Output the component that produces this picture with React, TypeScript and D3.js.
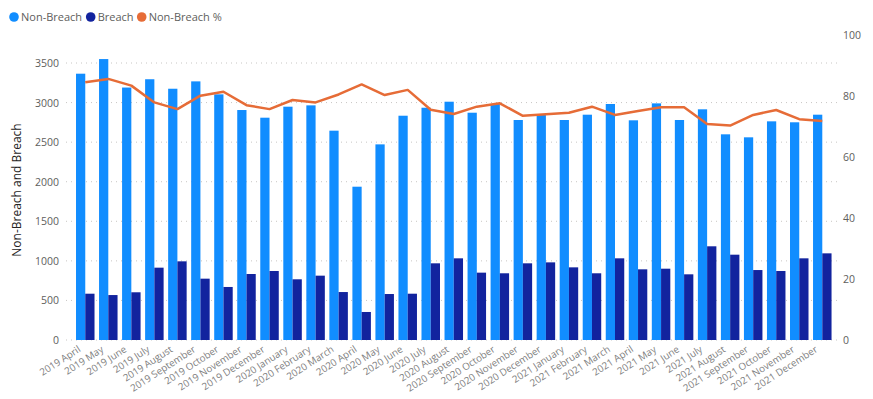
import React from "react";
import * as d3 from "d3";

const categories = [
  "2019 April","2019 May","2019 June","2019 July","2019 August","2019 September","2019 October","2019 November","2019 December",
  "2020 January","2020 February","2020 March","2020 April","2020 May","2020 June","2020 July","2020 August","2020 September","2020 October","2020 November","2020 December",
  "2021 January","2021 February","2021 March","2021 April","2021 May","2021 June","2021 July","2021 August","2021 September","2021 October","2021 November","2021 December",
];
const nonBreach = [
  3365, 3550, 3190, 3295, 3175, 3268, 3104, 2906, 2809,
  2948, 2965, 2645, 1937, 2472, 2834, 2935, 3011, 2872, 2982, 2780, 2852,
  2780, 2847, 2982, 2776, 2990, 2780, 2915, 2599, 2561, 2763, 2751, 2847,
];
const breach = [
  585, 568, 603, 914, 994, 775, 670, 834, 872,
  767, 813, 606, 354, 581, 585, 969, 1032, 851, 843, 969, 981,
  918, 843, 1032, 893, 901, 830, 1184, 1078, 884, 872, 1032, 1095,
];
const nonBreachPct = [
  84.5, 85.6, 83.4, 77.9, 75.7, 80.1, 81.4, 77.0, 75.7,
  78.7, 77.9, 80.5, 83.8, 80.3, 82.0, 75.5, 74.1, 76.5, 77.6, 73.5, 74.0,
  74.5, 76.5, 73.8, 75.1, 76.3, 76.3, 70.8, 70.3, 73.8, 75.4, 72.4, 71.8,
];
const leftTicks = [0, 500, 1000, 1500, 2000, 2500, 3000, 3500];
const rightTicks = [0, 20, 40, 60, 80, 100];
const legendItems = [
  { label: "Non-Breach", color: "#118DFF" },
  { label: "Breach", color: "#12239E" },
  { label: "Non-Breach %", color: "#E66C37" },
];

const W = 873, H = 399;
const FONT = "'Segoe UI', 'Open Sans', sans-serif";

export default function App() {
  const plotTop = 35, plotBottom = 340;
  const x = d3.scaleBand<string>().domain(categories).range([73.75, 833.8]).paddingInner(0).paddingOuter(0);
  const yL = d3.scaleLinear().domain([0, 3854]).range([plotBottom, plotTop]);
  const yR = d3.scaleLinear().domain([0, 100]).range([plotBottom, plotTop]);
  const step = x.bandwidth();
  const barW = 9.25;
  const line = d3.line<number>()
    .x((_, i) => (x(categories[i]) as number) + step / 2)
    .y((d) => yR(d));

  const legendX = [14, 90.7, 141.7];

  return (
    <svg width={W} height={H} style={{ position: "absolute", left: 0, top: 0, background: "#fff" }} fontFamily={FONT}>
      {/* legend */}
      {legendItems.map((it, i) => (
        <g key={it.label} transform={`translate(${legendX[i]},17)`}>
          <circle r={4.8} fill={it.color} />
          <text x={7} y={4} fontSize={11} fill="#605E5C">{it.label}</text>
        </g>
      ))}
      {/* gridlines */}
      {leftTicks.map((t) => (
        <line key={t} x1={66} x2={838} y1={yL(t)} y2={yL(t)} stroke="#C8C6C4" strokeWidth={1} strokeDasharray="1,4" />
      ))}
      {/* left ticks */}
      {leftTicks.map((t) => (
        <text key={t} x={59} y={yL(t) + 4} fontSize={10.5} textAnchor="end" fill="#605E5C">{t}</text>
      ))}
      {/* right ticks */}
      {rightTicks.map((t) => (
        <text key={t} x={843} y={yR(t) + 4} fontSize={10.5} textAnchor="start" fill="#605E5C">{t}</text>
      ))}
      {/* axis title */}
      <text transform="translate(21,190) rotate(-90)" textAnchor="middle" fontSize={12} fill="#252423">Non-Breach and Breach</text>
      {/* bars */}
      {categories.map((c, i) => {
        const cx = (x(c) as number) + step / 2;
        return (
          <g key={c}>
            <rect x={cx - barW} y={yL(nonBreach[i])} width={barW} height={plotBottom - yL(nonBreach[i])} fill="#118DFF" />
            <rect x={cx} y={yL(breach[i])} width={barW} height={plotBottom - yL(breach[i])} fill="#12239E" />
          </g>
        );
      })}
      {/* line */}
      <path d={line(nonBreachPct) || ""} fill="none" stroke="#E66C37" strokeWidth={2.5} strokeLinejoin="round" />
      {/* x labels */}
      {categories.map((c) => {
        const cx = (x(c) as number) + step / 2;
        return (
          <text key={c} transform={`translate(${cx - 4},351) rotate(-33)`} textAnchor="end" fontSize={9.8} fill="#808080">{c}</text>
        );
      })}
    </svg>
  );
}
